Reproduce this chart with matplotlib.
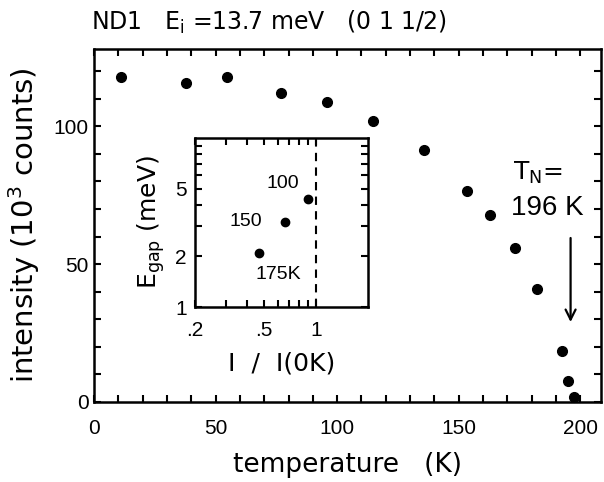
import numpy as np  # 导入 NumPy 库，用于数组操作
import matplotlib
matplotlib.use('Agg')
import matplotlib.pyplot as plt  # 导入 Matplotlib 的 pyplot，用于数据可视化
from matplotlib.ticker import FixedLocator, FixedFormatter, NullFormatter

plt.rcParams['font.family'] = ['DejaVu Sans']  # 文字标签用 DejaVu Sans
plt.rcParams['mathtext.default'] = 'regular'  # 数学文本使用普通字体
num_font = ['Liberation Sans', 'DejaVu Sans']  # 数字用较窄的字体

# 主图数据：温度 (K) 和强度 (10^3 counts)
temperature = np.array([11.1, 37.7, 54.6, 77.0, 95.8, 114.7, 135.8, 153.4, 163.0,
                        173.0, 182.2, 192.5, 194.9, 197.2])
intensity = np.array([117.9, 115.7, 117.8, 112.2, 109.0, 101.8, 91.5, 76.7, 67.8,
                      55.8, 40.9, 18.6, 7.7, 1.9])

# 插图数据：I / I(0K) 和能隙 E_gap (meV)
ratio = np.array([0.466, 0.667, 0.895])
gap = np.array([2.1, 3.2, 4.34])
gap_labels = ['175K', '150', '100']

# 刻度
x_major = [0, 50, 100, 150, 200]
y_major = [0, 50, 100]
inset_x_ticks = [0.2, 0.5, 1]
inset_x_labels = ['.2', '.5', '1']
inset_x_minor = [0.3, 0.4, 0.6, 0.7, 0.8, 0.9]
inset_y_ticks = [1, 2, 5]
inset_y_labels = ['1', '2', '5']
inset_y_minor = [3, 4, 6, 7, 8, 9]

T_N = 196  # 奈尔温度

fig = plt.figure(figsize=(6.04, 4.82), dpi=100)
ax = fig.add_axes([0.1556, 0.166, 0.8394, 0.732])

ax.plot(temperature, intensity, 'o', color='black', markersize=7, clip_on=False, zorder=5)
ax.set_xlim(0, 208.5)
ax.set_ylim(0, 128)
ax.xaxis.set_major_locator(FixedLocator(x_major))
ax.yaxis.set_major_locator(FixedLocator(y_major))
ax.set_xticks(np.arange(0, 210, 10), minor=True)
ax.set_yticks(np.arange(0, 128, 10), minor=True)
ax.tick_params(which='both', direction='in', top=True, right=True, length=5, width=1.5)
ax.tick_params(axis='x', pad=12)
ax.tick_params(axis='y', pad=4)
for lab in ax.get_xticklabels() + ax.get_yticklabels():
    lab.set_family(num_font)
    lab.set_fontsize(15)
for s in ax.spines.values():
    s.set_linewidth(1.8)

ax.set_xlabel('temperature   (K)', fontsize=19, labelpad=10)
ax.set_ylabel('intensity (10$^3$ counts)', fontsize=21, labelpad=8)
fig.text(0.151, 0.954, 'ND1   E$_i$ =13.7 meV   (0 1 1/2)', fontsize=17, va='center', ha='left')

# T_N 标注和箭头
ax.text(172.5, 83, 'T$_N$=', fontsize=18, va='center', ha='left')
ax.text(171.5, 70.5, '196 K', fontsize=20, va='center', ha='left', family=num_font)
ax.annotate('', xy=(T_N, 28), xytext=(T_N, 60.5),
            arrowprops=dict(arrowstyle='->', color='black', lw=1.6,
                            mutation_scale=18))

# 插图
axin = fig.add_axes([0.323, 0.363, 0.286, 0.351])
axin.set_xscale('log')
axin.set_yscale('log')
axin.plot(ratio, gap, 'o', color='black', markersize=6)
axin.axvline(1, color='black', linestyle=(0, (4, 3)), linewidth=1.5)
axin.set_xlim(0.2, 2)
axin.set_ylim(1, 10)
axin.xaxis.set_major_locator(FixedLocator(inset_x_ticks))
axin.xaxis.set_major_formatter(FixedFormatter(inset_x_labels))
axin.xaxis.set_minor_locator(FixedLocator(inset_x_minor))
axin.xaxis.set_minor_formatter(NullFormatter())
axin.yaxis.set_major_locator(FixedLocator(inset_y_ticks))
axin.yaxis.set_major_formatter(FixedFormatter(inset_y_labels))
axin.yaxis.set_minor_locator(FixedLocator(inset_y_minor))
axin.yaxis.set_minor_formatter(NullFormatter())
axin.tick_params(which='both', direction='in', top=True, right=True, length=5, width=1.5)
axin.tick_params(axis='x', pad=10)
axin.tick_params(axis='y', pad=6)
for lab in axin.get_xticklabels() + axin.get_yticklabels():
    lab.set_family(num_font)
    lab.set_fontsize(15)
for s in axin.spines.values():
    s.set_linewidth(1.8)
axin.set_xlabel('I  /  I(0K)', fontsize=18, labelpad=8)
axin.set_ylabel('E$_{gap}$ (meV)', fontsize=18, labelpad=6)

# 插图中的温度标签
axin.text(0.80, 5.4, gap_labels[2], fontsize=14, ha='right', va='center', family=num_font)
axin.text(0.49, 3.2, gap_labels[1], fontsize=14, ha='right', va='center', family=num_font)
axin.text(0.45, 1.55, gap_labels[0], fontsize=14, ha='left', va='center', family=num_font)

fig.savefig('out.png', dpi=100)
